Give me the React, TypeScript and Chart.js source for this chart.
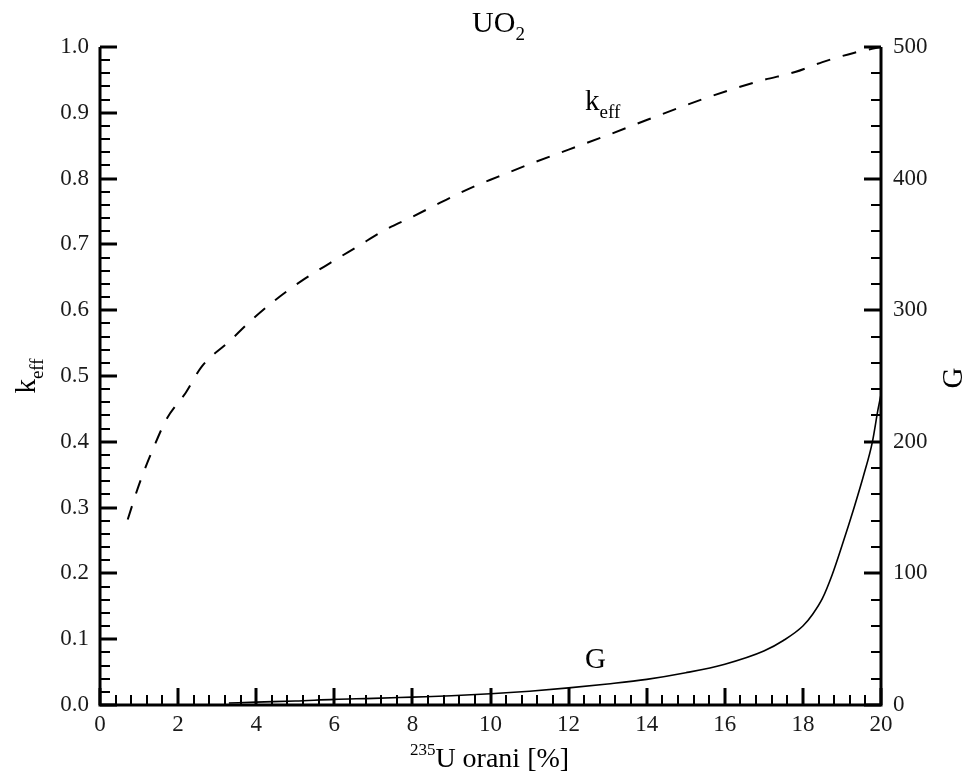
import React, { useEffect, useRef } from "react";
import { Chart, registerables } from "chart.js";

Chart.register(...registerables);

// k_eff curve (dashed), left axis
const keffX = [0.71, 1.0, 1.4, 1.7, 2.2, 2.6, 3.3, 3.9, 4.5, 5.2, 5.9, 6.6, 7.3, 8.0, 8.7, 9.5, 10.2, 11, 12, 13, 14, 15.4, 16.2, 17, 17.8, 18.5, 19.3, 20];
const keffY = [0.282, 0.335, 0.395, 0.434, 0.475, 0.514, 0.552, 0.586, 0.616, 0.646, 0.672, 0.697, 0.722, 0.742, 0.763, 0.786, 0.803, 0.822, 0.844, 0.866, 0.889, 0.92, 0.936, 0.95, 0.962, 0.977, 0.991, 1.0];

// G curve (solid), right axis
const gX = [3.3, 4, 5, 6, 7, 8, 9, 10, 11, 12, 13, 14, 15, 16, 17, 17.5, 18, 18.25, 18.5, 18.75, 19, 19.3, 19.55, 19.78, 19.92, 20];
const gY = [1.5, 2.2, 3, 4.3, 5, 6, 7, 8.5, 10.5, 13, 16, 19.5, 24.5, 31, 41, 49, 60, 69, 81, 99, 121, 149, 174, 200, 224, 236];

// axis ranges / ticks
const xRange = [0, 20];
const xMajor = 2;
const xMinor = 0.4;
const keffRange = [0, 1];
const keffMajor = 0.1;
const keffMinor = 0.02;
const gRange = [0, 500];
const gMajor = 100;
const gMinor = 20;

// text
const titleMain = "UO";
const titleSub = "2";
const xTitleSup = "235";
const xTitleMain = "U orani [%]";
const keffName = "k";
const keffSub = "eff";
const gName = "G";
const keffLabelAt = { x: 12.42, y: 0.904 };
const gLabelAt = { x: 12.42, y: 28 };

const SERIF = "'Liberation Serif', 'DejaVu Serif', serif";

type Part = { t: string; size: number; dy: number };

function drawParts(ctx: CanvasRenderingContext2D, parts: Part[], x: number, y: number, align: "left" | "center") {
  let total = 0;
  const widths = parts.map((p) => {
    ctx.font = `${p.size}px ${SERIF}`;
    const w = ctx.measureText(p.t).width;
    total += w;
    return w;
  });
  let cx = align === "center" ? x - total / 2 : x;
  parts.forEach((p, i) => {
    ctx.font = `${p.size}px ${SERIF}`;
    ctx.fillText(p.t, cx, y + p.dy);
    cx += widths[i];
  });
}

const framePlugin = {
  id: "frame",
  afterDatasetsDraw(chart: any) {
    const ctx: CanvasRenderingContext2D = chart.ctx;
    const { left, right, top, bottom } = chart.chartArea;
    const xs = chart.scales.x;
    const ys = chart.scales.y;
    const y1 = chart.scales.y1;
    ctx.save();
    ctx.strokeStyle = "#000";
    ctx.lineCap = "butt";

    // axis lines (no top border)
    ctx.lineWidth = 3;
    ctx.beginPath();
    ctx.moveTo(left, top);
    ctx.lineTo(left, bottom);
    ctx.lineTo(right, bottom);
    ctx.lineTo(right, top);
    ctx.stroke();

    const eps = 1e-6;
    for (let v = keffRange[0]; v <= keffRange[1] + eps; v += keffMinor) {
      const isMajor = Math.abs(v / keffMajor - Math.round(v / keffMajor)) < 1e-4;
      const py = Math.round(ys.getPixelForValue(v));
      ctx.lineWidth = isMajor ? 3 : 2;
      ctx.beginPath();
      ctx.moveTo(left, py);
      ctx.lineTo(left + (isMajor ? 17 : 10), py);
      ctx.stroke();
    }
    for (let v = gRange[0]; v <= gRange[1] + eps; v += gMinor) {
      const isMajor = Math.abs(v / gMajor - Math.round(v / gMajor)) < 1e-4;
      const py = Math.round(y1.getPixelForValue(v));
      ctx.lineWidth = isMajor ? 3 : 2;
      ctx.beginPath();
      ctx.moveTo(right, py);
      ctx.lineTo(right - (isMajor ? 17 : 10), py);
      ctx.stroke();
    }
    for (let v = xRange[0]; v <= xRange[1] + eps; v += xMinor) {
      const isMajor = Math.abs(v / xMajor - Math.round(v / xMajor)) < 1e-4;
      const px = Math.round(xs.getPixelForValue(v));
      ctx.lineWidth = isMajor ? 3 : 2;
      ctx.beginPath();
      ctx.moveTo(px, bottom);
      ctx.lineTo(px, bottom - (isMajor ? 17 : 10));
      ctx.stroke();
    }

    // texts
    ctx.fillStyle = "#000";
    ctx.textBaseline = "alphabetic";
    ctx.textAlign = "left";
    const cxPlot = (left + right) / 2;
    drawParts(ctx, [
      { t: titleMain, size: 30, dy: 0 },
      { t: titleSub, size: 19, dy: 8 },
    ], cxPlot + 8, 32, "center");

    drawParts(ctx, [
      { t: xTitleSup, size: 17, dy: -12 },
      { t: xTitleMain, size: 28, dy: 0 },
    ], cxPlot - 1, 767, "center");

    // left axis title (rotated)
    ctx.save();
    ctx.translate(35, (top + bottom) / 2);
    ctx.rotate(-Math.PI / 2);
    drawParts(ctx, [
      { t: keffName, size: 29, dy: 0 },
      { t: keffSub, size: 19, dy: 8 },
    ], 0, 0, "center");
    ctx.restore();

    // right axis title (rotated same way)
    ctx.save();
    ctx.translate(962, (top + bottom) / 2 + 2);
    ctx.rotate(-Math.PI / 2);
    drawParts(ctx, [{ t: gName, size: 29, dy: 0 }], 0, 0, "center");
    ctx.restore();

    // curve labels
    drawParts(ctx, [
      { t: keffName, size: 29, dy: 0 },
      { t: keffSub, size: 19, dy: 8 },
    ], xs.getPixelForValue(keffLabelAt.x), ys.getPixelForValue(keffLabelAt.y), "left");
    drawParts(ctx, [{ t: gName, size: 29, dy: 0 }], xs.getPixelForValue(gLabelAt.x), y1.getPixelForValue(gLabelAt.y), "left");

    ctx.restore();
  },
};

export default function App() {
  const ref = useRef<HTMLCanvasElement | null>(null);
  useEffect(() => {
    if (!ref.current) return;
    const tickFont = { family: SERIF, size: 23 };
    const tickColor = "#1a1a1a";
    const chart = new Chart(ref.current, {
      type: "line",
      data: {
        datasets: [
          {
            label: "keff",
            data: keffX.map((x, i) => ({ x, y: keffY[i] })),
            yAxisID: "y",
            borderColor: "#000",
            borderWidth: 2,
            borderDash: [14, 13],
            pointRadius: 0,
            cubicInterpolationMode: "monotone",
            fill: false,
          },
          {
            label: "G",
            data: gX.map((x, i) => ({ x, y: gY[i] })),
            yAxisID: "y1",
            borderColor: "#000",
            borderWidth: 1.6,
            pointRadius: 0,
            cubicInterpolationMode: "monotone",
            fill: false,
          },
        ],
      },
      options: {
        responsive: false,
        animation: false,
        devicePixelRatio: 1,
        layout: { padding: { top: 47, left: 0, right: 0, bottom: 0 } },
        plugins: { legend: { display: false }, tooltip: { enabled: false }, title: { display: false } },
        scales: {
          x: {
            type: "linear",
            min: xRange[0],
            max: xRange[1],
            grid: { display: false, drawTicks: false },
            border: { display: false },
            ticks: { stepSize: xMajor, font: tickFont, color: tickColor, padding: 6, maxRotation: 0 },
            afterFit: (s: any) => { s.height = 74; },
          },
          y: {
            type: "linear",
            position: "left",
            min: keffRange[0],
            max: keffRange[1],
            grid: { display: false, drawTicks: false },
            border: { display: false },
            ticks: { stepSize: keffMajor, font: tickFont, color: tickColor, padding: 11, callback: (v: any) => Number(v).toFixed(1) },
            afterFit: (s: any) => { s.width = 100; },
          },
          y1: {
            type: "linear",
            position: "right",
            min: gRange[0],
            max: gRange[1],
            grid: { display: false, drawTicks: false },
            border: { display: false },
            ticks: { stepSize: gMajor, font: tickFont, color: tickColor, padding: 12 },
            afterFit: (s: any) => { s.width = 83; },
          },
        },
      },
      plugins: [framePlugin],
    } as any);
    return () => chart.destroy();
  }, []);
  return (
    <div style={{ position: "absolute", left: 0, top: 0, width: 964, height: 779, background: "#fff" }}>
      <canvas ref={ref} width={964} height={779} style={{ display: "block" }} />
    </div>
  );
}
